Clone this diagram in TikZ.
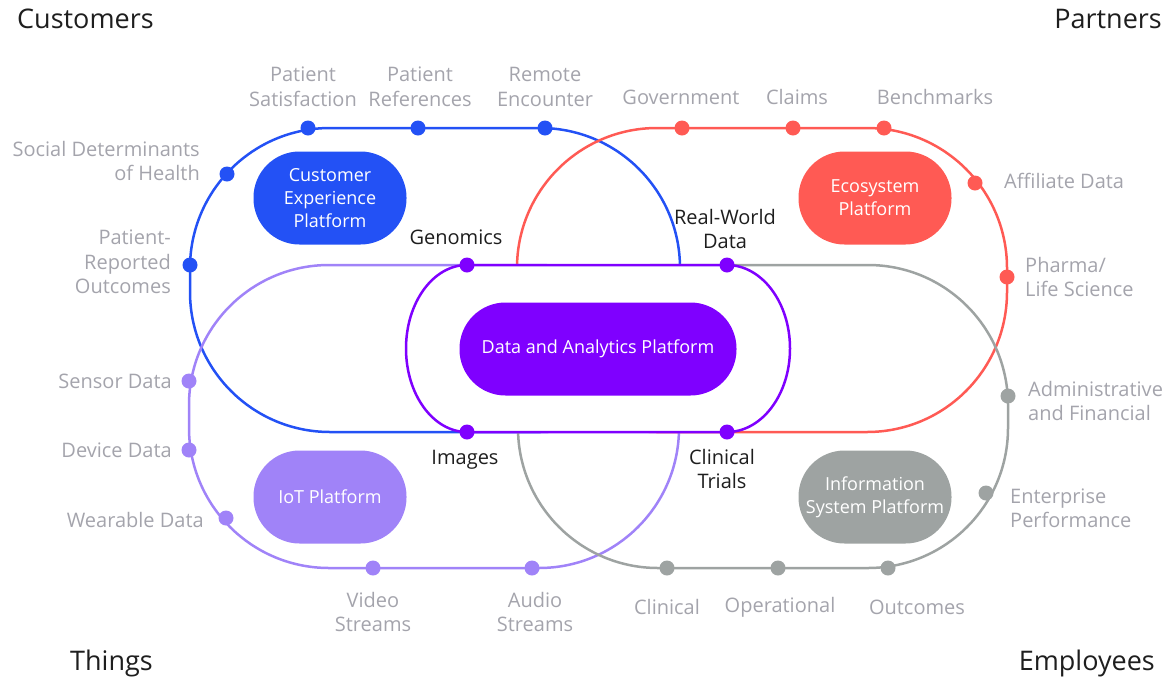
\documentclass[tikz,border=0pt]{standalone}
\usepackage{fontspec}
\setmainfont{Open Sans}
\usepackage{tikz}

\definecolor{custblue}{HTML}{2351F5}
\definecolor{ecored}{HTML}{FF5A54}
\definecolor{datapurple}{HTML}{7F00FF}
\definecolor{iotpurple}{HTML}{A083F8}
\definecolor{infogrey}{HTML}{9EA3A2}
\definecolor{labelgrey}{HTML}{A4A4AC}
\definecolor{darktext}{HTML}{1E1E1E}

\tikzset{
	ringline/.style={line width=2.5pt, rounded corners=140pt},
	pillbox/.style={rounded corners=46pt, minimum width=153pt, minimum height=93pt, text=white, align=center, font=\fontsize{18}{23}\selectfont},
	datadot/.style={circle, inner sep=0pt, minimum size=15pt},
	sidelabel/.style={text=labelgrey, font=\fontsize{20}{24.5}\selectfont, inner sep=0pt},
	hublabel/.style={text=darktext, font=\fontsize{20}{24.5}\selectfont, inner sep=0pt, align=center},
	cornerlabel/.style={text=darktext, font=\fontsize{27}{32}\selectfont, inner sep=0pt}
}

\begin{document}
\begin{tikzpicture}[x=1pt, y=-1pt]
			\useasboundingbox (0,0) rectangle (1175,678);
			\draw[ringline, custblue] (190,128) rectangle (680,432);
			\draw[ringline, ecored] (517,128) rectangle (1007,432);
			\draw[ringline, iotpurple] (189,265) rectangle (679,568);
			\draw[ringline, infogrey] (518,265) rectangle (1008,568);
			\draw[datapurple, line width=2.5pt, fill=white] (467,265) arc[start angle=90, end angle=270, x radius=61pt, y radius=83.5pt] -- (727,432) arc[start angle=-90, end angle=90, x radius=63pt, y radius=83.5pt] -- cycle;

			\node[pillbox, fill=custblue] (cxp) at (330,198) {Customer\\Experience\\Platform};
			\node[pillbox, fill=ecored] (eco) at (875,198) {Ecosystem\\Platform};
			\node[pillbox, fill=iotpurple] (iot) at (330,497) {IoT Platform};
			\node[pillbox, fill=infogrey] (isp) at (875,497) {Information\\System Platform};
			\node[pillbox, fill=datapurple, minimum width=277pt] (dap) at (598,349) {Data and Analytics Platform};

			\node[datadot, fill=custblue] (satdot) at (308,128) {};
			\node[datadot, fill=custblue] (refdot) at (418,128) {};
			\node[datadot, fill=custblue] (remdot) at (545,128) {};
			\node[datadot, fill=custblue] (socdot) at (227,174) {};
			\node[datadot, fill=custblue] (prodot) at (190,265) {};
			\node[datadot, fill=ecored] (govdot) at (682,128) {};
			\node[datadot, fill=ecored] (clmdot) at (793,128) {};
			\node[datadot, fill=ecored] (bendot) at (884,128) {};
			\node[datadot, fill=ecored] (affdot) at (975,183) {};
			\node[datadot, fill=ecored] (phadot) at (1007,277) {};
			\node[datadot, fill=iotpurple] (sendot) at (189,381) {};
			\node[datadot, fill=iotpurple] (devdot) at (189,450) {};
			\node[datadot, fill=iotpurple] (weadot) at (226,518) {};
			\node[datadot, fill=iotpurple] (viddot) at (373,568) {};
			\node[datadot, fill=iotpurple] (auddot) at (532,568) {};
			\node[datadot, fill=infogrey] (admdot) at (1008,396) {};
			\node[datadot, fill=infogrey] (entdot) at (986,493) {};
			\node[datadot, fill=infogrey] (clidot) at (667,568) {};
			\node[datadot, fill=infogrey] (opsdot) at (778,568) {};
			\node[datadot, fill=infogrey] (outdot) at (888,568) {};
			\node[datadot, fill=datapurple] (gendot) at (467,265) {};
			\node[datadot, fill=datapurple] (rwddot) at (727,265) {};
			\node[datadot, fill=datapurple] (imgdot) at (467,432) {};
			\node[datadot, fill=datapurple] (trldot) at (727,432) {};

			\node[sidelabel, align=center] (sat) at (303,87) {Patient\\Satisfaction};
			\node[sidelabel, align=center] (ref) at (420,87) {Patient\\References};
			\node[sidelabel, align=center] (rem) at (545,87) {Remote\\Encounter};
			\node[sidelabel, align=right, anchor=east] (soc) at (200,161) {Social Determinants\\of Health};
			\node[sidelabel, align=right, anchor=east] (pro) at (171,262) {Patient-\\Reported\\Outcomes};
			\node[sidelabel] (gov) at (681,97) {Government};
			\node[sidelabel] (clm) at (797,97) {Claims};
			\node[sidelabel] (ben) at (935,97) {Benchmarks};
			\node[sidelabel, anchor=west] (aff) at (1004,181) {Affiliate Data};
			\node[sidelabel, align=left, anchor=west] (pha) at (1025,277) {Pharma/\\Life Science};
			\node[sidelabel, anchor=east] (sen) at (172,381) {Sensor Data};
			\node[sidelabel, anchor=east] (dev) at (172,450) {Device Data};
			\node[sidelabel, anchor=east] (wea) at (204,520) {Wearable Data};
			\node[sidelabel, align=left, anchor=west] (adm) at (1028,401) {Administrative\\and Financial};
			\node[sidelabel, align=left, anchor=west] (ent) at (1010,508) {Enterprise\\Performance};
			\node[sidelabel, align=center] (vid) at (373,612) {Video\\Streams};
			\node[sidelabel, align=center] (aud) at (535,612) {Audio\\Streams};
			\node[sidelabel] (cli) at (667,607) {Clinical};
			\node[sidelabel] (ops) at (780,607) {Operational};
			\node[sidelabel] (out) at (917,607) {Outcomes};

			\node[hublabel] (gen) at (456,237) {Genomics};
			\node[hublabel] (rwd) at (725,229) {Real-World\\Data};
			\node[hublabel] (img) at (465,460) {Images};
			\node[hublabel] (trl) at (722,469) {Clinical\\Trials};

			\node[cornerlabel, anchor=base west] (customers) at (17,28) {Customers};
			\node[cornerlabel, anchor=base east] (partners) at (1162,28) {Partners};
			\node[cornerlabel, anchor=base west] (things) at (70,670) {Things};
			\node[cornerlabel, anchor=base east] (employees) at (1155,670) {Employees};
		\end{tikzpicture}
\end{document}
